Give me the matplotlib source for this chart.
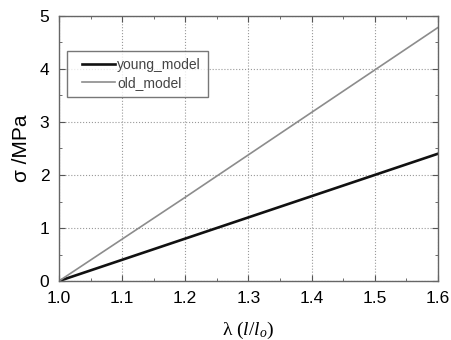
import numpy as np
import matplotlib
matplotlib.use('Agg')
import matplotlib.pyplot as plt
from matplotlib.ticker import MultipleLocator, FormatStrFormatter
from matplotlib.legend_handler import HandlerLine2D

# ==== Data ====
stretch = [1.0, 1.1, 1.2, 1.3, 1.4, 1.5, 1.6]
young_model = [0.0, 0.4, 0.8, 1.2, 1.6, 2.0, 2.4]
old_model = [0.0, 0.79, 1.58, 2.38, 3.18, 3.98, 4.78]


class InsetHandler(HandlerLine2D):
    # legend line starts a bit in from the frame, like the original
    def get_xdata(self, legend, xdescent, ydescent, width, height, fontsize):
        xd = np.array([-xdescent + 0.2*width, -xdescent + width])
        return xd, xd


plt.rcParams.update({'font.family': 'Liberation Sans', 'font.size': 12,
                     'mathtext.fontset': 'custom',
                     'mathtext.it': 'Liberation Serif:italic',
                     'mathtext.rm': 'Liberation Serif'})

fig = plt.figure(figsize=(4.52, 3.4), dpi=100)
ax = fig.add_axes([0.1305, 0.1735, 0.838, 0.7795])

ax.plot(stretch, young_model, color='#111111', lw=1.9, label='young_model')
ax.plot(stretch, old_model, color='#8c8c8c', lw=1.2, label='old_model')

ax.set_xlim(1.0, 1.6)
ax.set_ylim(0, 5)
ax.xaxis.set_major_locator(MultipleLocator(0.1))
ax.xaxis.set_minor_locator(MultipleLocator(0.05))
ax.yaxis.set_major_locator(MultipleLocator(1))
ax.yaxis.set_minor_locator(MultipleLocator(0.5))
ax.xaxis.set_major_formatter(FormatStrFormatter('%.1f'))
ax.tick_params(which='both', direction='in', top=True, right=True,
               color='#555555', labelsize=12.5)
ax.tick_params(axis='x', pad=7)
ax.tick_params(axis='y', pad=7)
ax.tick_params(which='major', length=4)
ax.tick_params(which='minor', length=2)
for s in ax.spines.values():
    s.set_color('#666666')
    s.set_linewidth(1.0)

ax.grid(True, which='major', ls=':', color='#999999', lw=0.8)

ax.set_ylabel('σ /MPa', fontsize=15, labelpad=6)
ax.set_xlabel(r'λ ($l/l_o$)', family='Liberation Serif', fontsize=14,
              labelpad=10)

leg = ax.legend(loc='upper left', bbox_to_anchor=(0.021, 0.868),
                borderaxespad=0, fontsize=10, frameon=True, fancybox=False,
                edgecolor='#555555', handlelength=2.95, handletextpad=0.15,
                borderpad=0.5, labelspacing=0.3,
                handler_map={plt.Line2D: InsetHandler()})
leg.get_frame().set_linewidth(1.0)
for t in leg.get_texts():
    t.set_color('#444444')

fig.savefig('out.png', dpi=100)
